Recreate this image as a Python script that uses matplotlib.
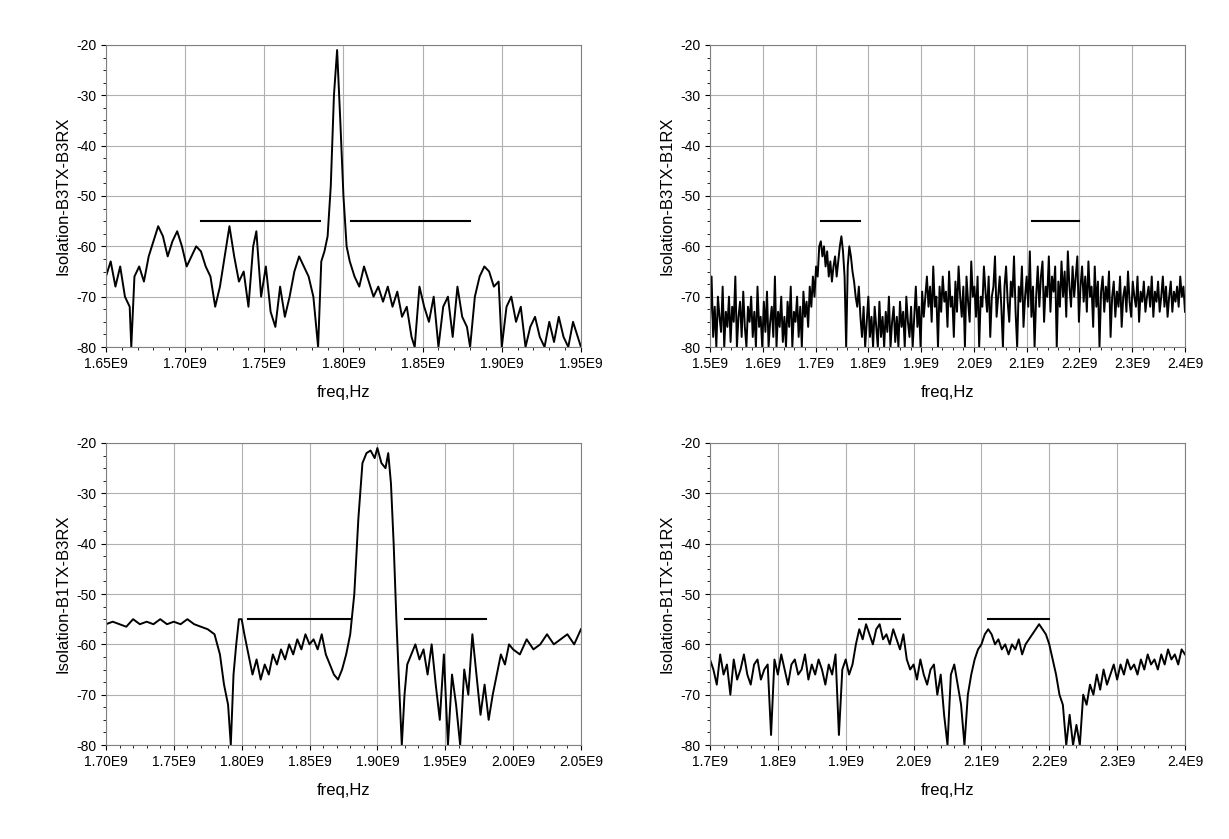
import matplotlib
matplotlib.use("Agg")
import matplotlib.pyplot as plt
import numpy as np
from matplotlib.ticker import MultipleLocator, FuncFormatter

plt.rcParams['font.family'] = ['Liberation Sans', 'DejaVu Sans']
plt.rcParams['axes.unicode_minus'] = False

# Panel 1: Isolation-B3TX-B3RX vs freq (GHz)
f1 = [1.650,1.653,1.656,1.659,1.662,1.665,1.666,1.668,1.671,1.674,1.677,1.680,1.683,1.686,1.689,1.692,1.695,1.698,1.701,1.704,1.707,1.710,1.713,1.716,1.719,1.722,1.725,1.728,1.731,1.734,1.737,1.740,1.743,1.745,1.748,1.751,1.754,1.757,1.760,1.763,1.766,1.769,1.772,1.775,1.778,1.781,1.784,1.786,1.788,1.790,1.792,1.794,1.796,1.798,1.800,1.802,1.804,1.807,1.810,1.813,1.816,1.819,1.822,1.825,1.828,1.831,1.834,1.837,1.840,1.843,1.845,1.848,1.851,1.854,1.857,1.860,1.863,1.866,1.869,1.872,1.875,1.878,1.880,1.883,1.886,1.889,1.892,1.895,1.898,1.900,1.903,1.906,1.909,1.912,1.915,1.918,1.921,1.924,1.927,1.930,1.933,1.936,1.939,1.942,1.945,1.948,1.950]
v1 = [-66,-63,-68,-64,-70,-72,-80,-66,-64,-67,-62,-59,-56,-58,-62,-59,-57,-60,-64,-62,-60,-61,-64,-66,-72,-68,-62,-56,-62,-67,-65,-72,-60,-57,-70,-64,-73,-76,-68,-74,-70,-65,-62,-64,-66,-70,-80,-63,-61,-58,-48,-30,-21,-35,-50,-60,-63,-66,-68,-64,-67,-70,-68,-71,-68,-72,-69,-74,-72,-78,-80,-68,-72,-75,-70,-80,-72,-70,-78,-68,-74,-76,-80,-70,-66,-64,-65,-68,-67,-80,-72,-70,-75,-72,-80,-76,-74,-78,-80,-75,-79,-74,-78,-80,-75,-78,-80]
m1 = [(1.71, 1.785), (1.805, 1.88)]

# Panel 2: Isolation-B3TX-B1RX (step 0.003 GHz from 1.5)
f2 = list(np.round(np.arange(1.500, 2.4001, 0.003), 4))
v2 = [
 -75,-66,-78,-72,-80,-70,-74,-77,-68,-80,-73,-76,-70,-79,-72,-75,-66,-80,-74,-71,
 -78,-69,-76,-80,-72,-75,-70,-78,-73,-80,-68,-76,-74,-80,-71,-77,-69,-80,-75,-72,
 -78,-66,-80,-73,-76,-70,-79,-74,-80,-71,-76,-68,-80,-73,-75,-70,-78,-72,-80,-69,
 -74,-71,-76,-68,-72,-66,-70,-64,-66,-60,-59,-62,-60,-64,-61,-66,-63,-67,-64,-62,
 -66,-63,-60,-58,-61,-66,-80,-64,-60,-62,-65,-67,-70,-72,-68,-74,-78,-72,-80,-75,
 -70,-78,-74,-80,-72,-76,-80,-71,-78,-74,-80,-73,-77,-70,-80,-75,-72,-79,-74,-80,
 -71,-76,-73,-80,-70,-75,-78,-72,-80,-74,-68,-76,-72,-80,-69,-74,-70,-66,-72,-68,
 -75,-64,-72,-70,-80,-68,-73,-66,-71,-69,-76,-65,-72,-70,-78,-67,-73,-64,-70,-74,
 -68,-80,-66,-71,-75,-63,-70,-68,-74,-66,-80,-70,-72,-64,-69,-73,-66,-78,-70,-68,
 -62,-74,-70,-66,-72,-80,-68,-64,-71,-75,-67,-70,-62,-73,-80,-68,-71,-64,-76,-70,
 -66,-72,-61,-74,-68,-80,-70,-64,-72,-66,-63,-75,-68,-70,-62,-73,-66,-69,-64,-80,
 -67,-72,-63,-70,-65,-74,-61,-68,-72,-64,-70,-66,-62,-75,-68,-64,-71,-66,-73,-63,
 -70,-68,-76,-64,-72,-67,-80,-69,-66,-73,-68,-71,-65,-78,-70,-67,-74,-69,-72,-66,
 -76,-70,-68,-73,-65,-71,-74,-67,-70,-72,-66,-75,-69,-71,-67,-73,-70,-68,-72,-66,
 -74,-69,-71,-67,-73,-70,-66,-72,-68,-74,-70,-67,-73,-69,-71,-68,-72,-66,-70,-68,
 -73]
m2 = [(1.71, 1.785), (2.11, 2.2)]

# Panel 3: Isolation-B1TX-B3RX
f3 = [1.700,1.705,1.710,1.715,1.720,1.725,1.730,1.735,1.740,1.745,1.750,1.755,1.760,1.765,1.770,1.775,1.780,1.784,1.787,1.790,1.792,1.794,1.796,1.798,1.800,1.802,1.805,1.808,1.811,1.814,1.817,1.820,1.823,1.826,1.829,1.832,1.835,1.838,1.841,1.844,1.847,1.850,1.853,1.856,1.859,1.862,1.865,1.868,1.871,1.874,1.877,1.880,1.883,1.886,1.889,1.892,1.895,1.898,1.900,1.903,1.906,1.908,1.910,1.912,1.914,1.916,1.918,1.920,1.922,1.925,1.928,1.931,1.934,1.937,1.940,1.943,1.946,1.949,1.952,1.955,1.958,1.961,1.964,1.967,1.970,1.973,1.976,1.979,1.982,1.985,1.988,1.991,1.994,1.997,2.000,2.005,2.010,2.015,2.020,2.025,2.030,2.035,2.040,2.045,2.050]
v3 = [-56,-55.5,-56,-56.5,-55,-56,-55.5,-56,-55,-56,-55.5,-56,-55,-56,-56.5,-57,-58,-62,-68,-72,-80,-66,-60,-55,-55,-58,-62,-66,-63,-67,-64,-66,-62,-64,-61,-63,-60,-62,-59,-61,-58,-60,-59,-61,-58,-62,-64,-66,-67,-65,-62,-58,-50,-35,-24,-22,-21.5,-23,-21,-24,-25,-22,-28,-40,-55,-68,-80,-70,-64,-62,-60,-63,-61,-66,-60,-68,-75,-62,-80,-66,-72,-80,-65,-70,-58,-66,-74,-68,-75,-70,-66,-62,-64,-60,-61,-62,-59,-61,-60,-58,-60,-59,-58,-60,-57]
m3 = [(1.805, 1.88), (1.92, 1.98)]

# Panel 4: Isolation-B1TX-B1RX (step 0.005 GHz from 1.7)
f4 = list(np.round(np.arange(1.700, 2.4001, 0.005), 4))
v4 = [
 -63,-65,-68,-62,-66,-64,-70,-63,-67,-65,
 -62,-66,-68,-64,-63,-67,-65,-64,-78,-63,
 -66,-62,-65,-68,-64,-63,-66,-65,-62,-67,
 -64,-66,-63,-65,-68,-64,-66,-62,-78,-65,
 -63,-66,-64,-60,-57,-59,-56,-58,-60,-57,
 -56,-59,-58,-60,-57,-59,-61,-58,-63,-65,
 -64,-67,-63,-66,-68,-65,-64,-70,-66,-74,
 -80,-66,-64,-68,-72,-80,-70,-66,-63,-61,
 -60,-58,-57,-58,-60,-59,-61,-60,-62,-60,
 -61,-59,-62,-60,-59,-58,-57,-56,-57,-58,
 -60,-63,-66,-70,-72,-80,-74,-80,-76,-80,
 -70,-72,-68,-70,-66,-69,-65,-68,-66,-64,
 -67,-64,-66,-63,-65,-64,-66,-63,-65,-62,
 -64,-63,-65,-62,-64,-61,-63,-62,-64,-61,
 -62]
m4 = [(1.92, 1.98), (2.11, 2.2)]

panels = [
    (f1, v1, m1, "Isolation-B3TX-B3RX", (1.65, 1.95), 0.05, 2),
    (f2, v2, m2, "Isolation-B3TX-B1RX", (1.5, 2.4), 0.1, 1),
    (f3, v3, m3, "Isolation-B1TX-B3RX", (1.70, 2.05), 0.05, 2),
    (f4, v4, m4, "Isolation-B1TX-B1RX", (1.7, 2.4), 0.1, 1),
]
pos = [(0.0862, 0.5864), (0.5777, 0.5864), (0.0862, 0.112), (0.5777, 0.112)]

fig = plt.figure(figsize=(12.29, 8.39), dpi=100)
for (f, v, m, lab, xl, step, dec), (l, b) in zip(panels, pos):
    n = min(len(f), len(v))
    ax = fig.add_axes([l, b, 0.3865, 0.36])
    ax.plot(f[:n], v[:n], color='black', lw=1.4)
    for a, c in m:
        ax.plot([a, c], [-55, -55], color='black', lw=1.5)
    ax.set_xlim(*xl)
    ax.set_ylim(-80, -20)
    ax.xaxis.set_major_locator(MultipleLocator(step))
    ax.xaxis.set_minor_locator(MultipleLocator(step / 5))
    ax.yaxis.set_major_locator(MultipleLocator(10))
    ax.yaxis.set_minor_locator(MultipleLocator(2.5))
    ax.xaxis.set_major_formatter(FuncFormatter(lambda x, p, d=dec: f"{x:.{d}f}E9"))
    ax.grid(True, which='major', color='#b0b0b0', lw=0.8)
    ax.tick_params(labelsize=10, direction='out')
    ax.set_xlabel("freq,Hz", fontsize=12, labelpad=10)
    ax.set_ylabel(lab, fontsize=12)
    for s in ax.spines.values():
        s.set_color('#808080')
fig.savefig("out.png", dpi=100)
